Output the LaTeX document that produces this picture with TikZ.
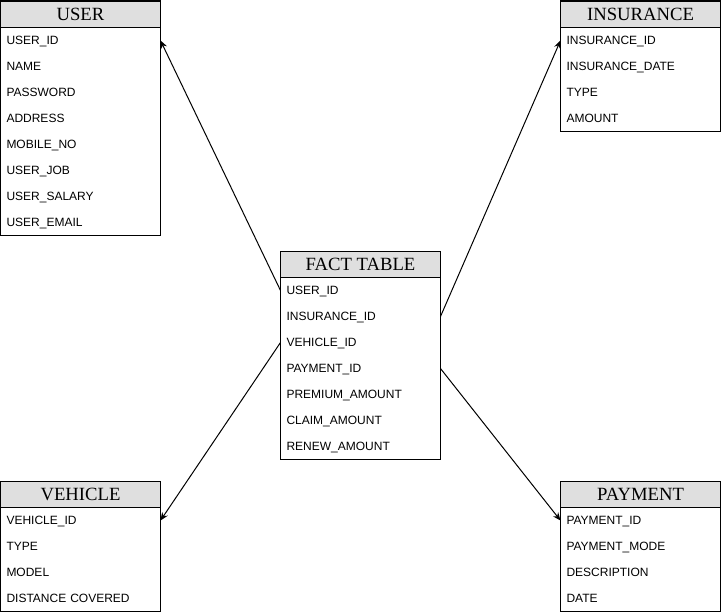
\documentclass[tikz,border=0pt]{standalone}
\usepackage{fontspec}
\setmainfont{Liberation Serif}
\setsansfont{Liberation Sans}
\usetikzlibrary{positioning}
\usetikzlibrary{arrows.meta}

\begin{document}
\begin{tikzpicture}[x=0.75pt, y=-0.75pt, line width=0.75pt,
    node distance=0pt,
    head/.style={rectangle, draw, fill=gray!25, minimum width=120pt, minimum height=19.5pt, inner sep=0pt, font=\rmfamily\fontsize{14}{16}\selectfont},
    field/.style={rectangle, minimum width=120pt, minimum height=19.5pt, text width=111pt, text height=7.9pt, text depth=1.5pt, inner xsep=4.5pt, inner ysep=0pt, outer sep=0pt, align=left, font=\sffamily\fontsize{9}{11}\selectfont},
    link/.style={-{Stealth[length=6pt,width=5pt]}}
    ]
    \useasboundingbox (0,0) rectangle (721,614);

    % user
    \node[head] (user) at (80.5,14) {USER};
    \node[field, below=of user] (user1) {USER\_ID};
    \node[field, below=of user1] (user2) {NAME};
    \node[field, below=of user2] (user3) {PASSWORD};
    \node[field, below=of user3] (user4) {ADDRESS};
    \node[field, below=of user4] (user5) {MOBILE\_NO};
    \node[field, below=of user5] (user6) {USER\_JOB};
    \node[field, below=of user6] (user7) {USER\_SALARY};
    \node[field, below=of user7] (user8) {USER\_EMAIL};
    \draw (user1.north west) rectangle (user8.south east);

    % insurance
    \node[head] (ins) at (640.5,14) {INSURANCE};
    \node[field, below=of ins] (ins1) {INSURANCE\_ID};
    \node[field, below=of ins1] (ins2) {INSURANCE\_DATE};
    \node[field, below=of ins2] (ins3) {TYPE};
    \node[field, below=of ins3] (ins4) {AMOUNT};
    \draw (ins1.north west) rectangle (ins4.south east);

    % fact table
    \node[head] (fact) at (360.5,264) {FACT TABLE};
    \node[field, below=of fact] (fact1) {USER\_ID};
    \node[field, below=of fact1] (fact2) {INSURANCE\_ID};
    \node[field, below=of fact2] (fact3) {VEHICLE\_ID};
    \node[field, below=of fact3] (fact4) {PAYMENT\_ID};
    \node[field, below=of fact4] (fact5) {PREMIUM\_AMOUNT};
    \node[field, below=of fact5] (fact6) {CLAIM\_AMOUNT};
    \node[field, below=of fact6] (fact7) {RENEW\_AMOUNT};
    \draw (fact1.north west) rectangle (fact7.south east);

    % vehicle
    \node[head] (veh) at (80.5,494) {VEHICLE};
    \node[field, below=of veh] (veh1) {VEHICLE\_ID};
    \node[field, below=of veh1] (veh2) {TYPE};
    \node[field, below=of veh2] (veh3) {MODEL};
    \node[field, below=of veh3] (veh4) {DISTANCE COVERED};
    \draw (veh1.north west) rectangle (veh4.south east);

    % payment
    \node[head] (pay) at (640.5,494) {PAYMENT};
    \node[field, below=of pay] (pay1) {PAYMENT\_ID};
    \node[field, below=of pay1] (pay2) {PAYMENT\_MODE};
    \node[field, below=of pay2] (pay3) {DESCRIPTION};
    \node[field, below=of pay3] (pay4) {DATE};
    \draw (pay1.north west) rectangle (pay4.south east);

    \draw[link] (fact1.west) -- (user1.east);
    \draw[link] (fact2.east) -- (ins1.west);
    \draw[link] (fact3.west) -- (veh1.east);
    \draw[link] (fact4.east) -- (pay1.west);
  \end{tikzpicture}
\end{document}
